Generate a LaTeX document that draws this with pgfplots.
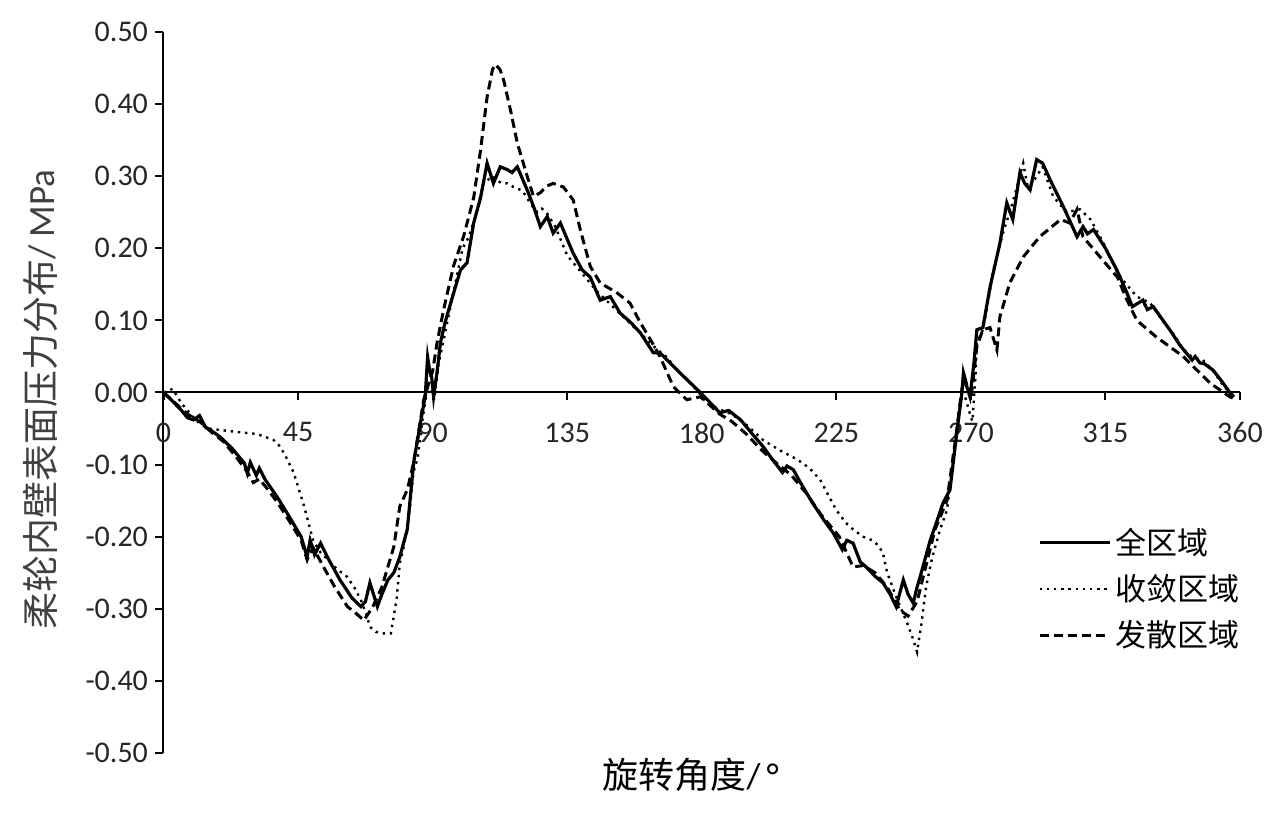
\documentclass[border=0pt]{standalone}
\usepackage{fontspec}
\setmainfont{Carlito}
\newfontfamily\cjk{Noto Sans CJK SC}
\usepackage{pgfplots}
\pgfplotsset{compat=1.18}

\begin{document}
\begin{tikzpicture}
\useasboundingbox (-81.5pt,-36pt) rectangle (556pt,376.5pt);
\begin{axis}[
    scale only axis,
    width=538.5pt, height=360.5pt,
    xmin=-0.2, xmax=360, ymin=-0.5, ymax=0.5,
    axis x line*=middle, axis y line*=left,
    axis line style={line width=1pt},
    hide obscured x ticks=false, hide obscured y ticks=false,
    xtick={0,45,...,360},
    ytick={-0.5,-0.4,...,0.5},
    yticklabels={-0.50,-0.40,-0.30,-0.20,-0.10,0.00,0.10,0.20,0.30,0.40,0.50},
    tick style={black, line width=1pt},
    major tick length=4pt,
    tick align=outside,
    ticklabel style={font=\fontsize{15}{15}\selectfont, text=black!85},
    xticklabel style={yshift=-7.5pt},
    /pgf/number format/assume math mode=true,
    xlabel={{\cjk 旋转角度}/\,°},
    ylabel={{\cjk 柔轮内壁表面压力分布}/ MPa},
    xlabel style={at={(axis description cs:0.49,0)}, anchor=center, yshift=-11pt, font=\fontsize{18}{18}\selectfont},
    ylabel style={at={(axis description cs:-0.114,0.49)}, anchor=center, font=\fontsize{18.5}{18.5}\selectfont, text=black!75},
    legend style={draw=none, fill=none, at={(axis description cs:0.812,0.318)}, anchor=north west,
        font=\cjk\fontsize{15.5}{15.5}\selectfont, row sep=4.5pt, inner sep=0pt},
    legend cell align=left,
    legend image code/.code={\draw[#1] (0pt,0pt) -- (35pt,0pt);},
    clip=false,
]
% 全区域
\addplot[black, line width=1.6pt] coordinates {
(0,0) (3,-0.012) (6,-0.025) (8,-0.035) (10,-0.038) (12,-0.032) (14,-0.048) (15.7,-0.052)
(19,-0.062) (23,-0.078) (27,-0.098) (28,-0.112) (29,-0.097) (31,-0.115) (32,-0.105) (34,-0.121)
(38,-0.145) (42,-0.172) (46,-0.2) (48,-0.228) (49,-0.205) (50.5,-0.225) (52.5,-0.209) (55,-0.23)
(59,-0.26) (63,-0.285) (66,-0.297) (67.5,-0.29) (69,-0.264) (71.5,-0.297) (73,-0.28) (75,-0.26)
(77,-0.25) (79,-0.228) (81.5,-0.19) (83.6,-0.098) (86,-0.04) (87.5,-0.005) (88.3,0.049) (89,0.03)
(89.7,0.02) (90.3,-0.006) (91.5,0.03) (92.6,0.069) (94,0.095) (96,0.124) (99.3,0.17) (101.5,0.18)
(103.7,0.235) (106,0.27) (108.2,0.318) (110.3,0.29) (112.6,0.313) (115,0.309) (116.5,0.305) (118.3,0.313)
(121.6,0.281) (124,0.255) (126,0.23) (128.3,0.244) (130.3,0.221) (132.7,0.235) (137,0.193) (140,0.17)
(142.7,0.16) (146,0.128) (149.4,0.133) (152.7,0.11) (156,0.098) (159.4,0.083) (163.8,0.055) (166,0.055)
(168.4,0.045) (172,0.03) (175,0.018) (179.5,0) (183,-0.015) (186,-0.028) (189,-0.025) (193,-0.038)
(197,-0.058) (200.5,-0.075) (204,-0.095) (207,-0.111) (208.5,-0.102) (210.6,-0.107) (213,-0.125) (217,-0.153)
(221,-0.178) (224,-0.195) (227,-0.218) (228.5,-0.205) (230.6,-0.209) (233,-0.235) (235,-0.242) (238,-0.255)
(240.6,-0.264) (243,-0.28) (245,-0.297) (247.4,-0.26) (249,-0.28) (250.7,-0.292) (252,-0.27) (253,-0.256)
(256.4,-0.205) (258.5,-0.18) (260.7,-0.153) (263,-0.135) (265.4,-0.052) (267,0) (267.5,0.027) (268.5,0.01)
(269.7,-0.006) (271,0.04) (272,0.087) (274,0.09) (276.4,0.146) (279.7,0.207) (282,0.263) (284,0.24)
(286.4,0.305) (288,0.29) (289.8,0.281) (292,0.323) (294,0.318) (296.5,0.295) (301,0.257) (305.5,0.216)
(307.5,0.23) (309,0.22) (311,0.226) (315,0.2) (318.8,0.17) (322,0.14) (324,0.119) (327.5,0.128)
(329,0.115) (331,0.119) (336.5,0.087) (340,0.065) (344,0.045) (345,0.05) (346.6,0.041) (348,0.04)
(351,0.031) (354,0.015) (356.6,0) (358,-0.006)
};
% 收敛区域
\addplot[black, line width=1.2pt, dash pattern=on 1.2pt off 2.4pt] coordinates {
(0,0) (3,0.005) (6,-0.015) (9,-0.03) (12,-0.043) (15,-0.05) (19,-0.052) (25,-0.055) (30,-0.057)
(33,-0.06) (36.8,-0.066) (39,-0.075) (41,-0.09) (43.5,-0.111) (47,-0.158) (50,-0.205) (52.5,-0.222)
(55,-0.232) (58,-0.245) (61.5,-0.256) (64,-0.272) (66,-0.288) (68,-0.31) (69,-0.325) (71,-0.332)
(73.5,-0.334) (76,-0.334) (77,-0.31) (78,-0.284) (79,-0.237) (80.3,-0.214) (82,-0.175) (83.6,-0.11)
(85,-0.09) (86.5,-0.04) (88,0) (89.5,0.005) (90.5,-0.01) (92,0.04) (93.5,0.07) (95,0.1)
(97,0.14) (100,0.2) (102,0.215) (104,0.24) (107,0.29) (110,0.3) (113,0.29) (115,0.29)
(117,0.285) (120,0.28) (123,0.26) (125,0.25) (126.5,0.255) (128,0.25) (131,0.23) (135,0.19)
(140,0.165) (145,0.14) (150,0.12) (155,0.1) (160,0.08) (165,0.06) (168,0.05) (172,0.03)
(178,0.005) (181,-0.01) (185,-0.022) (190,-0.03) (195,-0.045) (200.5,-0.066) (206,-0.08) (212,-0.093)
(216,-0.105) (219.6,-0.121) (222,-0.14) (225,-0.163) (228,-0.18) (230.6,-0.19) (234,-0.2) (237,-0.205)
(239,-0.212) (240.6,-0.223) (242,-0.25) (245,-0.283) (248.6,-0.319) (250.5,-0.34) (252,-0.36) (253.5,-0.32)
(255,-0.27) (257,-0.23) (259.7,-0.19) (262,-0.163) (264,-0.098) (266.4,-0.01) (268,-0.005) (269.7,-0.03)
(270.5,-0.04) (271.5,0.02) (272,0.068) (274,0.087) (275.5,0.12) (277.5,0.17) (281,0.225) (283,0.25)
(285.4,0.285) (287.5,0.318) (289,0.285) (290.5,0.29) (292,0.3) (294,0.313) (297.5,0.272) (302,0.25)
(306.5,0.254) (310,0.24) (314,0.21) (319,0.166) (322,0.15) (325.5,0.133) (330,0.124) (334,0.1)
(338,0.08) (341,0.06) (344,0.049) (347.6,0.045) (351,0.03) (354,0.012) (357.6,-0.006)
};
% 发散区域
\addplot[black, line width=1.5pt, dash pattern=on 4.5pt off 2.5pt] coordinates {
(0,0) (4,-0.015) (8,-0.03) (12,-0.04) (16,-0.055) (20,-0.068) (24,-0.088) (28,-0.11)
(30,-0.125) (32,-0.12) (34,-0.13) (38,-0.152) (42,-0.178) (46,-0.205) (48,-0.232) (50,-0.215)
(53.5,-0.242) (57,-0.268) (61.5,-0.297) (64,-0.305) (67,-0.316) (70,-0.297) (73,-0.27) (75,-0.242)
(77,-0.214) (79,-0.158) (81.5,-0.135) (83.6,-0.098) (87,-0.01) (88.5,0.01) (90,0.03) (91.5,0.07)
(93.6,0.114) (97,0.176) (100.3,0.216) (103.7,0.27) (106,0.336) (108.2,0.41) (110,0.448) (111,0.455)
(112.5,0.448) (113.7,0.434) (116,0.392) (118.3,0.346) (121.6,0.3) (123.7,0.272) (126,0.277) (128,0.286)
(130.3,0.29) (133.7,0.285) (137,0.267) (139.4,0.225) (142.7,0.175) (146,0.152) (151.7,0.138) (156,0.124)
(159.4,0.097) (163,0.072) (166,0.05) (170.5,0.008) (175,-0.01) (179.5,-0.006) (182,-0.015) (186,-0.03)
(190,-0.04) (195,-0.058) (200,-0.08) (205,-0.098) (210,-0.115) (215,-0.14) (220,-0.17) (226,-0.2)
(230.6,-0.242) (234,-0.24) (238,-0.25) (242,-0.27) (246.3,-0.302) (249,-0.31) (252,-0.29) (255,-0.24)
(258,-0.19) (262,-0.15) (265,-0.06) (267,0.005) (268,0.02) (270,-0.01) (272,0.064) (274,0.087)
(276.4,0.09) (278.7,0.059) (279.7,0.105) (283,0.152) (287.5,0.188) (293,0.216) (300,0.24) (303,0.235)
(305.5,0.254) (307.5,0.216) (314,0.184) (319,0.16) (322,0.13) (325.5,0.1) (332,0.077) (341,0.05)
(350,0.013) (356.6,-0.006) (359,-0.01)
};
\legend{全区域, 收敛区域, 发散区域}
\end{axis}
\end{tikzpicture}
\end{document}
